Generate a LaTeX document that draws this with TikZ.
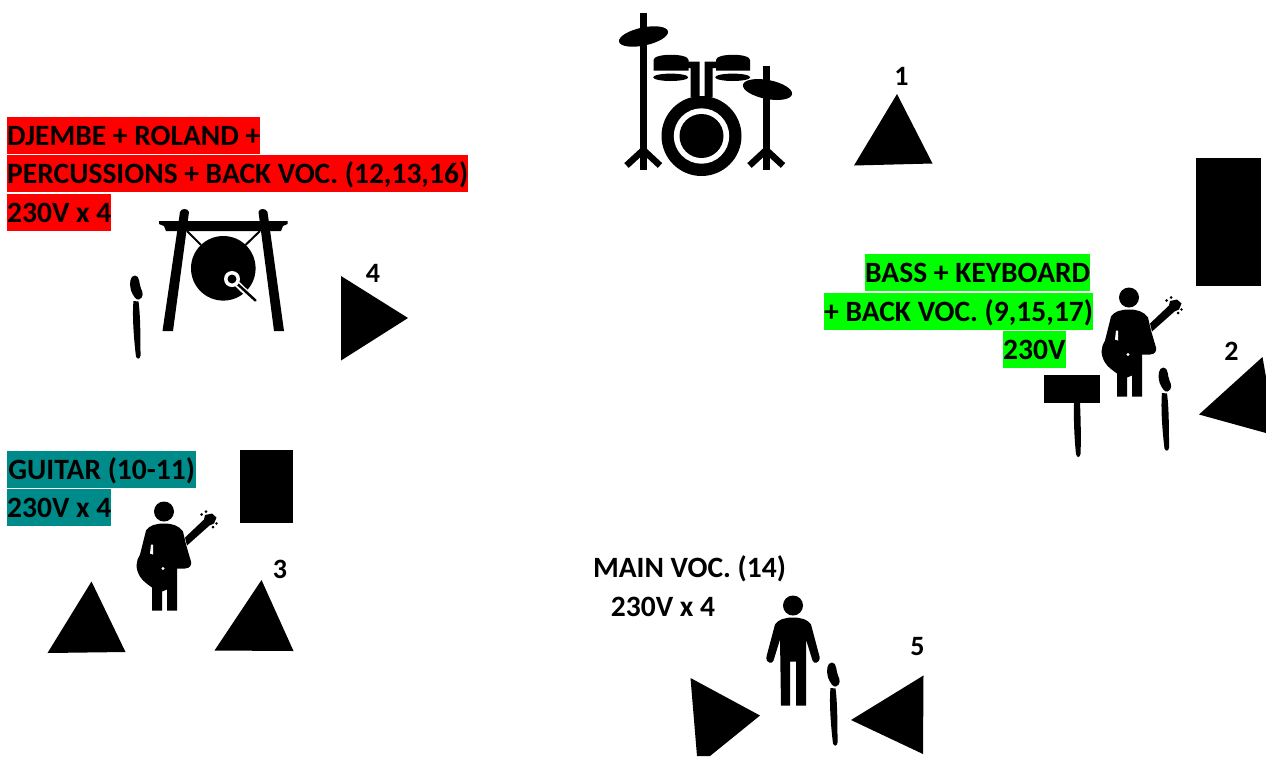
\documentclass[tikz,border=0pt]{standalone}
\usepackage{fontspec}
\setmainfont{Carlito}
\definecolor{tealbar}{RGB}{0,139,139}
\tikzset{
  lbl/.style={font=\fontsize{29.5}{29.5}\selectfont\bfseries, text=black, inner sep=0pt, minimum height=37pt, text height=22pt, text depth=3pt},
  num/.style={font=\fontsize{28}{28}\selectfont\bfseries, text=black, inner sep=0pt},
  mic/.pic={
    \fill (0,0) .. controls (-5,0) and (-6,8) .. (-4,15) .. controls (-2,20) and (1,25) .. (4,24) .. controls (9,22) and (8,17) .. (6,13) .. controls (4,9) and (5,0) .. (0,0) -- cycle;
    \fill (-1.5,25.5) -- (3.5,26) .. controls (5.5,40) and (5.5,65) .. (5.5,80) .. controls (5,84) and (2,84) .. (1,81) .. controls (-1,65) and (-3,40) .. (-1.5,25.5) -- cycle;
  },
  person/.pic={
    \fill (0,0) circle (10);
    \fill (0,12) .. controls (-8,12) and (-15,14) .. (-18,19) -- (-26.5,51) .. controls (-27.5,58) and (-20.5,59) .. (-19.5,55) -- (-13,34) -- (-12,100) -- (-3,100) -- (-3,56) -- (3,56) -- (3,100) -- (13,100) -- (13,34) -- (19.5,55) .. controls (20.5,59) and (27.5,58) .. (26.5,51) -- (18,19) .. controls (15,14) and (8,12) .. (0,12) -- cycle;
  },
  guitarist/.pic={
    \fill (0,0) circle (10);
    \fill (0,12) .. controls (-8,12) and (-15,14) .. (-18,19) -- (-24,43) .. controls (-28,49) and (-29,57) .. (-24,65) .. controls (-21,70) and (-16,73) .. (-12,76) -- (-12,99) -- (-2,99) -- (-2,80) -- (3,78) -- (3,99) -- (13,99) -- (13,57) -- (21,57) .. controls (26,57) and (28,53) .. (27,50) -- (22,33) -- (19,20) .. controls (15,14) and (8,12) .. (0,12) -- cycle;
    \fill[white] (-13,33) -- (-11,33) -- (-11,43) -- (-14,42) -- cycle;
    \fill[white] (-1,57) circle (1.6);
    \fill (21,26) -- (40,8) -- (41,3.5) -- (48,2) -- (52.5,6) -- (50,12) -- (45.5,14) -- (23,34) -- cycle;
    \fill (42,0) circle (1.5) (37.7,3) circle (1.5) (49,15.5) circle (1.5) (52.5,12) circle (1.3);
  }
}
\begin{document}
\begin{tikzpicture}[x=1pt,y=-1pt]
\useasboundingbox (0,0) rectangle (1266,756);
\fill[white] (0,0) rectangle (1266,756);
\begin{scope}
\clip (0,0) rectangle (1266,756);
% speakers (wedges)
\fill (897,94) -- (854,165.5) -- (932.5,163.5) -- cycle;
\fill (341,276) -- (408,318) -- (341,360.5) -- cycle;
\fill (1199,414.5) -- (1262.5,357) -- (1266,377) -- (1266,433) -- cycle;
\fill (91.5,581.5) -- (47.5,653) -- (125.5,652) -- cycle;
\fill (261.5,580) -- (214.5,650.5) -- (293.5,651) -- cycle;
\fill (690.5,678) -- (760,715.5) -- (710,756) -- (697,756) -- cycle;
\fill (923.5,675.5) -- (851,720) -- (923,754) -- cycle;
% amps
\fill (1196,158) rectangle (1261,286);
\fill (240,450) rectangle (293,523);
\fill (1043.5,374.5) rectangle (1099.5,403);
\fill (1074,403) -- (1080,403) .. controls (1081,425) and (1081,445) .. (1080.5,454) .. controls (1079.5,458) and (1077,458) .. (1076,454) .. controls (1074.5,440) and (1073.5,420) .. (1074,403) -- cycle;
% mics
\pic at (1163.5,367.5) {mic};
\pic at (135,275.5) {mic};
\pic at (832,662.5) {mic};
% drums
\fill (639.5,13) rectangle (647,170);
\fill[rotate around={12:(643.5,36.5)}] (643.5,36.5) ellipse (25 and 9);
\draw[line width=6.5pt] (643.3,150) -- (626.5,165.5) (643.3,150) -- (660,165.5);
\fill (762.5,66) rectangle (770,170);
\fill[rotate around={-11:(767.5,89.5)}] (767.5,89.5) ellipse (25 and 9.5);
\draw[line width=6.5pt] (766.2,150) -- (749.5,165.5) (766.2,150) -- (783,165.5);
\fill (701.5,136) circle (40);
\fill[white] (701.5,136) circle (27.7);
\fill (701.5,136) circle (22);
\fill (653.5,60) .. controls (653.5,53) and (688.5,53) .. (688.5,60) -- (688.5,70.5) -- (653.5,70.5) -- cycle;
\fill (716,60) .. controls (716,53) and (750,53) .. (750,60) -- (750,70.5) -- (716,70.5) -- cycle;
\fill (670.7,77.3) ellipse (17.5 and 3.7);
\fill (732.7,77.3) ellipse (17.5 and 3.7);
\fill (688,61.5) -- (699.5,61.5) -- (699.5,97) -- (690.5,97) -- (690.5,68) -- (688,68) -- cycle;
\fill (716,61.5) -- (704.5,61.5) -- (704.5,97) -- (712.5,97) -- (712.5,68) -- (716,68) -- cycle;
% gong
\fill (159,221) -- (287.5,221) -- (287.5,224) -- (283,226) -- (281,231) -- (166,231) -- (164,226) -- (159,224) -- cycle;
\fill (180,212) .. controls (181,208) and (188,208) .. (189,212) -- (173,331) -- (162.5,331) -- cycle;
\fill (258.5,212) .. controls (259,208) and (266,208) .. (267.5,212) -- (284,331) -- (274,331) -- cycle;
\draw[line width=2pt] (187,231) -- (201,245) (260,231) -- (245.5,245);
\fill (223.3,268.3) circle (32.3);
\draw[white,line width=6pt,line cap=round] (232,279) -- (255,301);
\draw[line width=2.5pt,line cap=round] (232,279) -- (255.5,300.5);
\fill[white] (232,279) circle (8);
\fill (232,279) circle (4.5);
% musicians
\pic at (1129,297.5) {guitarist};
\pic at (164,511.5) {guitarist};
\pic at (793,605.5) {person};
\end{scope}
% labels
\node[lbl,fill=red,anchor=north west,minimum width=253pt] (d1) at (7,117) {DJEMBE + ROLAND +};
\node[lbl,fill=red,anchor=north west,minimum width=461pt] (d2) at (7,155) {PERCUSSIONS + BACK VOC. (12,13,16)};
\node[lbl,fill=red,anchor=north west,minimum width=104pt] (d3) at (7,194) {230V x 4};
\node[lbl,fill=green,anchor=north west,minimum width=225pt] (b1) at (865,254) {BASS + KEYBOARD};
\node[lbl,fill=green,anchor=north west,minimum width=268pt] (b2) at (824,293) {+ BACK VOC. (9,15,17)};
\node[lbl,fill=green,anchor=north west,minimum width=62pt] (b3) at (1003,331) {230V};
\node[lbl,fill=tealbar,anchor=north west,minimum width=189pt] (g1) at (7,451) {GUITAR (10-11)};
\node[lbl,fill=tealbar,anchor=north west,minimum width=104pt] (g2) at (7,489) {230V x 4};
\node[lbl] (m1) at (689.5,568) {MAIN VOC. (14)};
\node[lbl] (m2) at (663,607) {230V x 4};
\node[num] (n1) at (901.5,76) {1};
\node[num] (n2) at (1231.5,351) {2};
\node[num] (n3) at (280,569) {3};
\node[num] (n4) at (373,273) {4};
\node[num] (n5) at (917.5,647) {5};
\end{tikzpicture}
\end{document}
